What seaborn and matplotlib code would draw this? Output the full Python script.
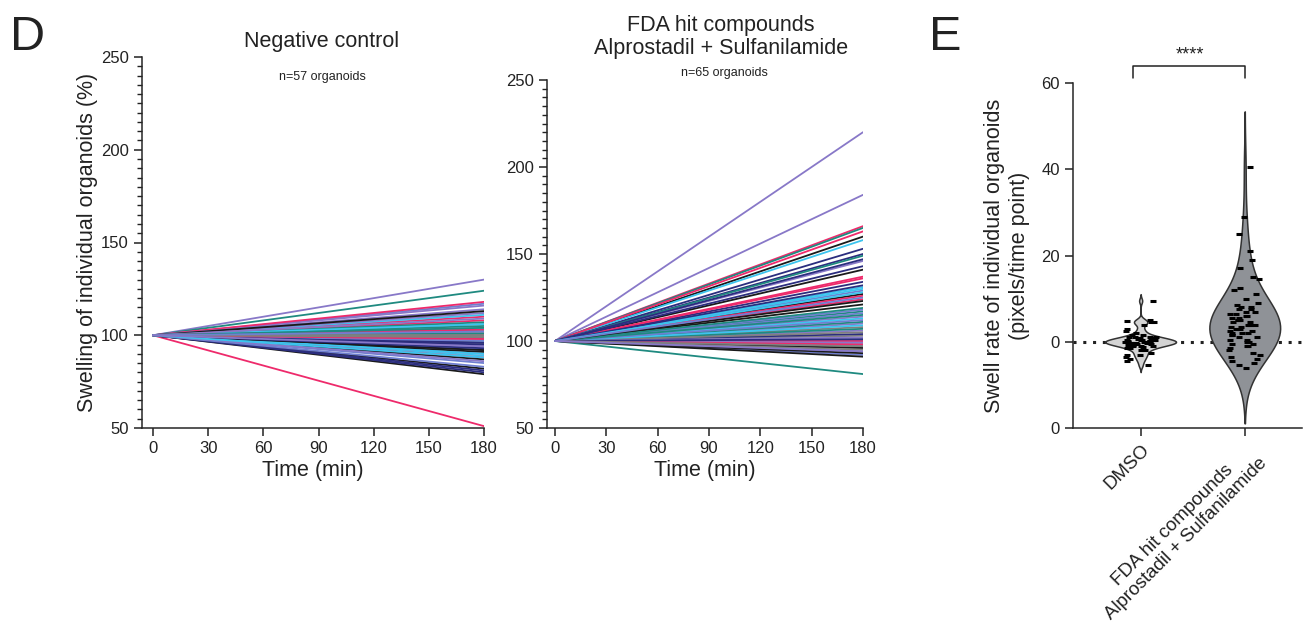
import numpy as np
import pandas as pd
import seaborn as sns
import matplotlib.pyplot as plt
from matplotlib.ticker import MultipleLocator

# --------------------------------------------------------
# data
time_points = [0, 180]

# end value (% of start) for each organoid, negative control
neg_end = [130, 124, 51, 79, 80, 97, 100, 117,
           116, 106, 118, 82, 81, 104, 101, 95,
           114, 105, 110, 96, 92, 111, 99, 83,
           112, 103, 108, 113, 94, 89, 102, 93,
           90, 107, 88, 91, 96, 106, 98, 97,
           109, 101, 103, 87, 95, 90, 100, 85,
           86, 104, 98, 92, 93, 88, 99, 102,
           94]

# end value (% of start) for each organoid, FDA hit compounds
fda_end = [220, 81, 166, 160, 153, 158, 96, 101,
           184, 165, 163, 141, 150, 131, 99, 129,
           114, 149, 137, 127, 134, 113, 103, 94,
           110, 117, 136, 121, 104, 100, 97, 92,
           146, 111, 126, 91, 143, 130, 108, 118,
           106, 107, 124, 96, 132, 98, 105, 116,
           102, 119, 100, 93, 147, 109, 95, 112,
           99, 115, 98, 123, 101, 128, 97, 125,
           94]

# swell rates (pixels/time point)
dmso_rate = [9.5, 5, 4.8, 4.5, 4.5, 4, 3, 2.5, 2, 1.5, 1.5, 1.2, 1, 1, 1,
             0.8, 0.8, 0.6, 0.5, 0.5, 0.5, 0.3, 0.3, 0.2, 0.2, 0.1, 0, 0,
             0, 0, -0.1, -0.2, -0.2, -0.3, -0.3, -0.4, -0.5, -0.5, -0.5,
             -0.7, -0.8, -1, -1, -1, -1, -1.2, -1.5, -1.5, -2, -2, -2.5,
             -3, -3, -3.5, -4, -4.5, -5.5]
fda_rate = [40.5, 29, 25, 21, 19, 17, 15, 14.5, 12.5, 12, 11, 10, 9, 8.5,
            8, 8, 7.5, 7.5, 7, 7, 6.5, 6.5, 6, 6, 5.5, 5.5, 5, 5, 5, 4.5,
            4.5, 4, 4, 4, 3.5, 3.5, 3, 3, 2.5, 2.5, 2, 2, 2, 1.5, 1.5, 1,
            1, 0.5, 0.5, 0, 0, -0.5, -0.5, -1, -1, -1.5, -2, -2.5, -3,
            -3.5, -4, -4.5, -5, -5.5, -6]

groups = ["DMSO", "FDA hit compounds\nAlprostadil + Sulfanilamide"]

# --------------------------------------------------------
sns.set_style("ticks")
plt.rcParams['font.family'] = ['Liberation Sans', 'DejaVu Sans']
plt.rcParams['axes.linewidth'] = 1.1
plt.rcParams['xtick.major.width'] = 1.1
plt.rcParams['ytick.major.width'] = 1.1
plt.rcParams['ytick.minor.width'] = 1.0
plt.rcParams['xtick.major.size'] = 6
plt.rcParams['ytick.major.size'] = 6
plt.rcParams['ytick.minor.size'] = 3.5
plt.rcParams['xtick.labelsize'] = 12
plt.rcParams['ytick.labelsize'] = 12
plt.rcParams['text.color'] = '#222222'
plt.rcParams['axes.labelcolor'] = '#222222'
plt.rcParams['xtick.color'] = '#222222'
plt.rcParams['ytick.color'] = '#222222'

line_colors = ['#8878C8', '#1F8A80', '#EE2A6B', '#1A1A1A',
               '#2B2D7E', '#3BC4EE', '#7F7F7F', '#6F7FD0']

fig = plt.figure(figsize=(13.03, 6.28), dpi=100)
W, H = 1303, 628


def add_ax(x0, x1, y_top, y_bot):
    return fig.add_axes([x0 / W, 1 - y_bot / H, (x1 - x0) / W, (y_bot - y_top) / H])


def long_table(ends):
    rows = []
    for i, e in enumerate(ends):
        for t, v in zip(time_points, [100, e]):
            rows.append({'organoid': i, 'time': t, 'swelling': v})
    return pd.DataFrame(rows)


def draw_lines(ax, ends):
    df = long_table(ends)
    pal = [line_colors[i % len(line_colors)] for i in range(len(ends))]
    sns.lineplot(data=df, x='time', y='swelling', hue='organoid', palette=pal,
                 estimator=None, legend=False, linewidth=1.3, ax=ax)
    ax.set_ylim(50, 250)
    ax.set_xticks(range(0, 181, 30))
    ax.set_yticks(range(50, 251, 50))
    ax.yaxis.set_minor_locator(MultipleLocator(5))
    ax.set_xlabel("Time (min)", fontsize=15.5, labelpad=3)
    ax.set_ylabel("")
    sns.despine(ax=ax)


# panel D, negative control
ax1 = add_ax(142, 484, 57, 428)
draw_lines(ax1, neg_end)
ax1.set_xlim(-6, 180)
ax1.set_ylabel("Swelling of individual organoids (%)", fontsize=15.5, labelpad=2)

# panel D, FDA hits
ax2 = add_ax(547, 863, 80, 428)
draw_lines(ax2, fda_end)
ax2.set_xlim(-4.7, 180)

fig.text(322 / W, 1 - 42 / H, "Negative control", ha='center', va='center', fontsize=15.5)
fig.text(322 / W, 1 - 77 / H, "n=57 organoids", ha='center', va='center', fontsize=9)
fig.text(721 / W, 1 - 37 / H, "FDA hit compounds\nAlprostadil + Sulfanilamide",
         ha='center', va='center', fontsize=15.5, linespacing=1.15)
fig.text(724 / W, 1 - 73 / H, "n=65 organoids", ha='center', va='center', fontsize=9)

# panel E, violins
ax3 = add_ax(1073, 1302, 83, 428)
rates = pd.DataFrame({
    'group': [groups[0]] * len(dmso_rate) + [groups[1]] * len(fda_rate),
    'rate': dmso_rate + fda_rate,
})
ax3.axhline(0, color='#222222', linestyle=(0, (1, 2.2)), linewidth=2.2, zorder=0)
violin_kw = dict(x='group', y='rate', order=groups, inner=None, density_norm='width',
                 width=0.68, linewidth=1.1, linecolor='#333333', ax=ax3)
sns.violinplot(data=rates[rates['group'] == groups[0]], color='#D4D4D4',
               cut=2.5, bw_adjust=0.55, **violin_kw)
sns.violinplot(data=rates[rates['group'] == groups[1]], color='#8E9298',
               cut=2.4, bw_adjust=1.5, **violin_kw)
sns.stripplot(data=rates, x='group', y='rate', order=groups, color='black',
              marker='_', size=5, linewidth=2.2, jitter=0.15, ax=ax3)
ax3.set_xlim(-0.65, 1.55)
ax3.set_ylim(-20, 60)
ax3.set_yticks([-20, 0, 20, 40, 60])
ax3.set_yticklabels(['0', '0', '20', '40', '60'])
ax3.set_xlabel("")
ax3.set_ylabel("Swell rate of individual organoids\n(pixels/time point)", fontsize=15.5,
               labelpad=8, linespacing=1.25)
ax3.set_xticks([0, 1])
ax3.set_xticklabels(groups, rotation=45, ha='right', va='top', rotation_mode='anchor',
                    multialignment='center', fontsize=13.5)
sns.despine(ax=ax3)

# significance bracket
ax3.plot([-0.07, -0.07, 1, 1], [61.2, 63.9, 63.9, 61.2], color='#222222',
         linewidth=1.1, clip_on=False)
ax3.text(0.47, 66.5, "****", ha='center', va='center', fontsize=13)

fig.text(28 / W, 1 - 38 / H, "D", ha='center', va='center', fontsize=35)
fig.text(945 / W, 1 - 38 / H, "E", ha='center', va='center', fontsize=35)

fig.savefig("out.png", dpi=100)
